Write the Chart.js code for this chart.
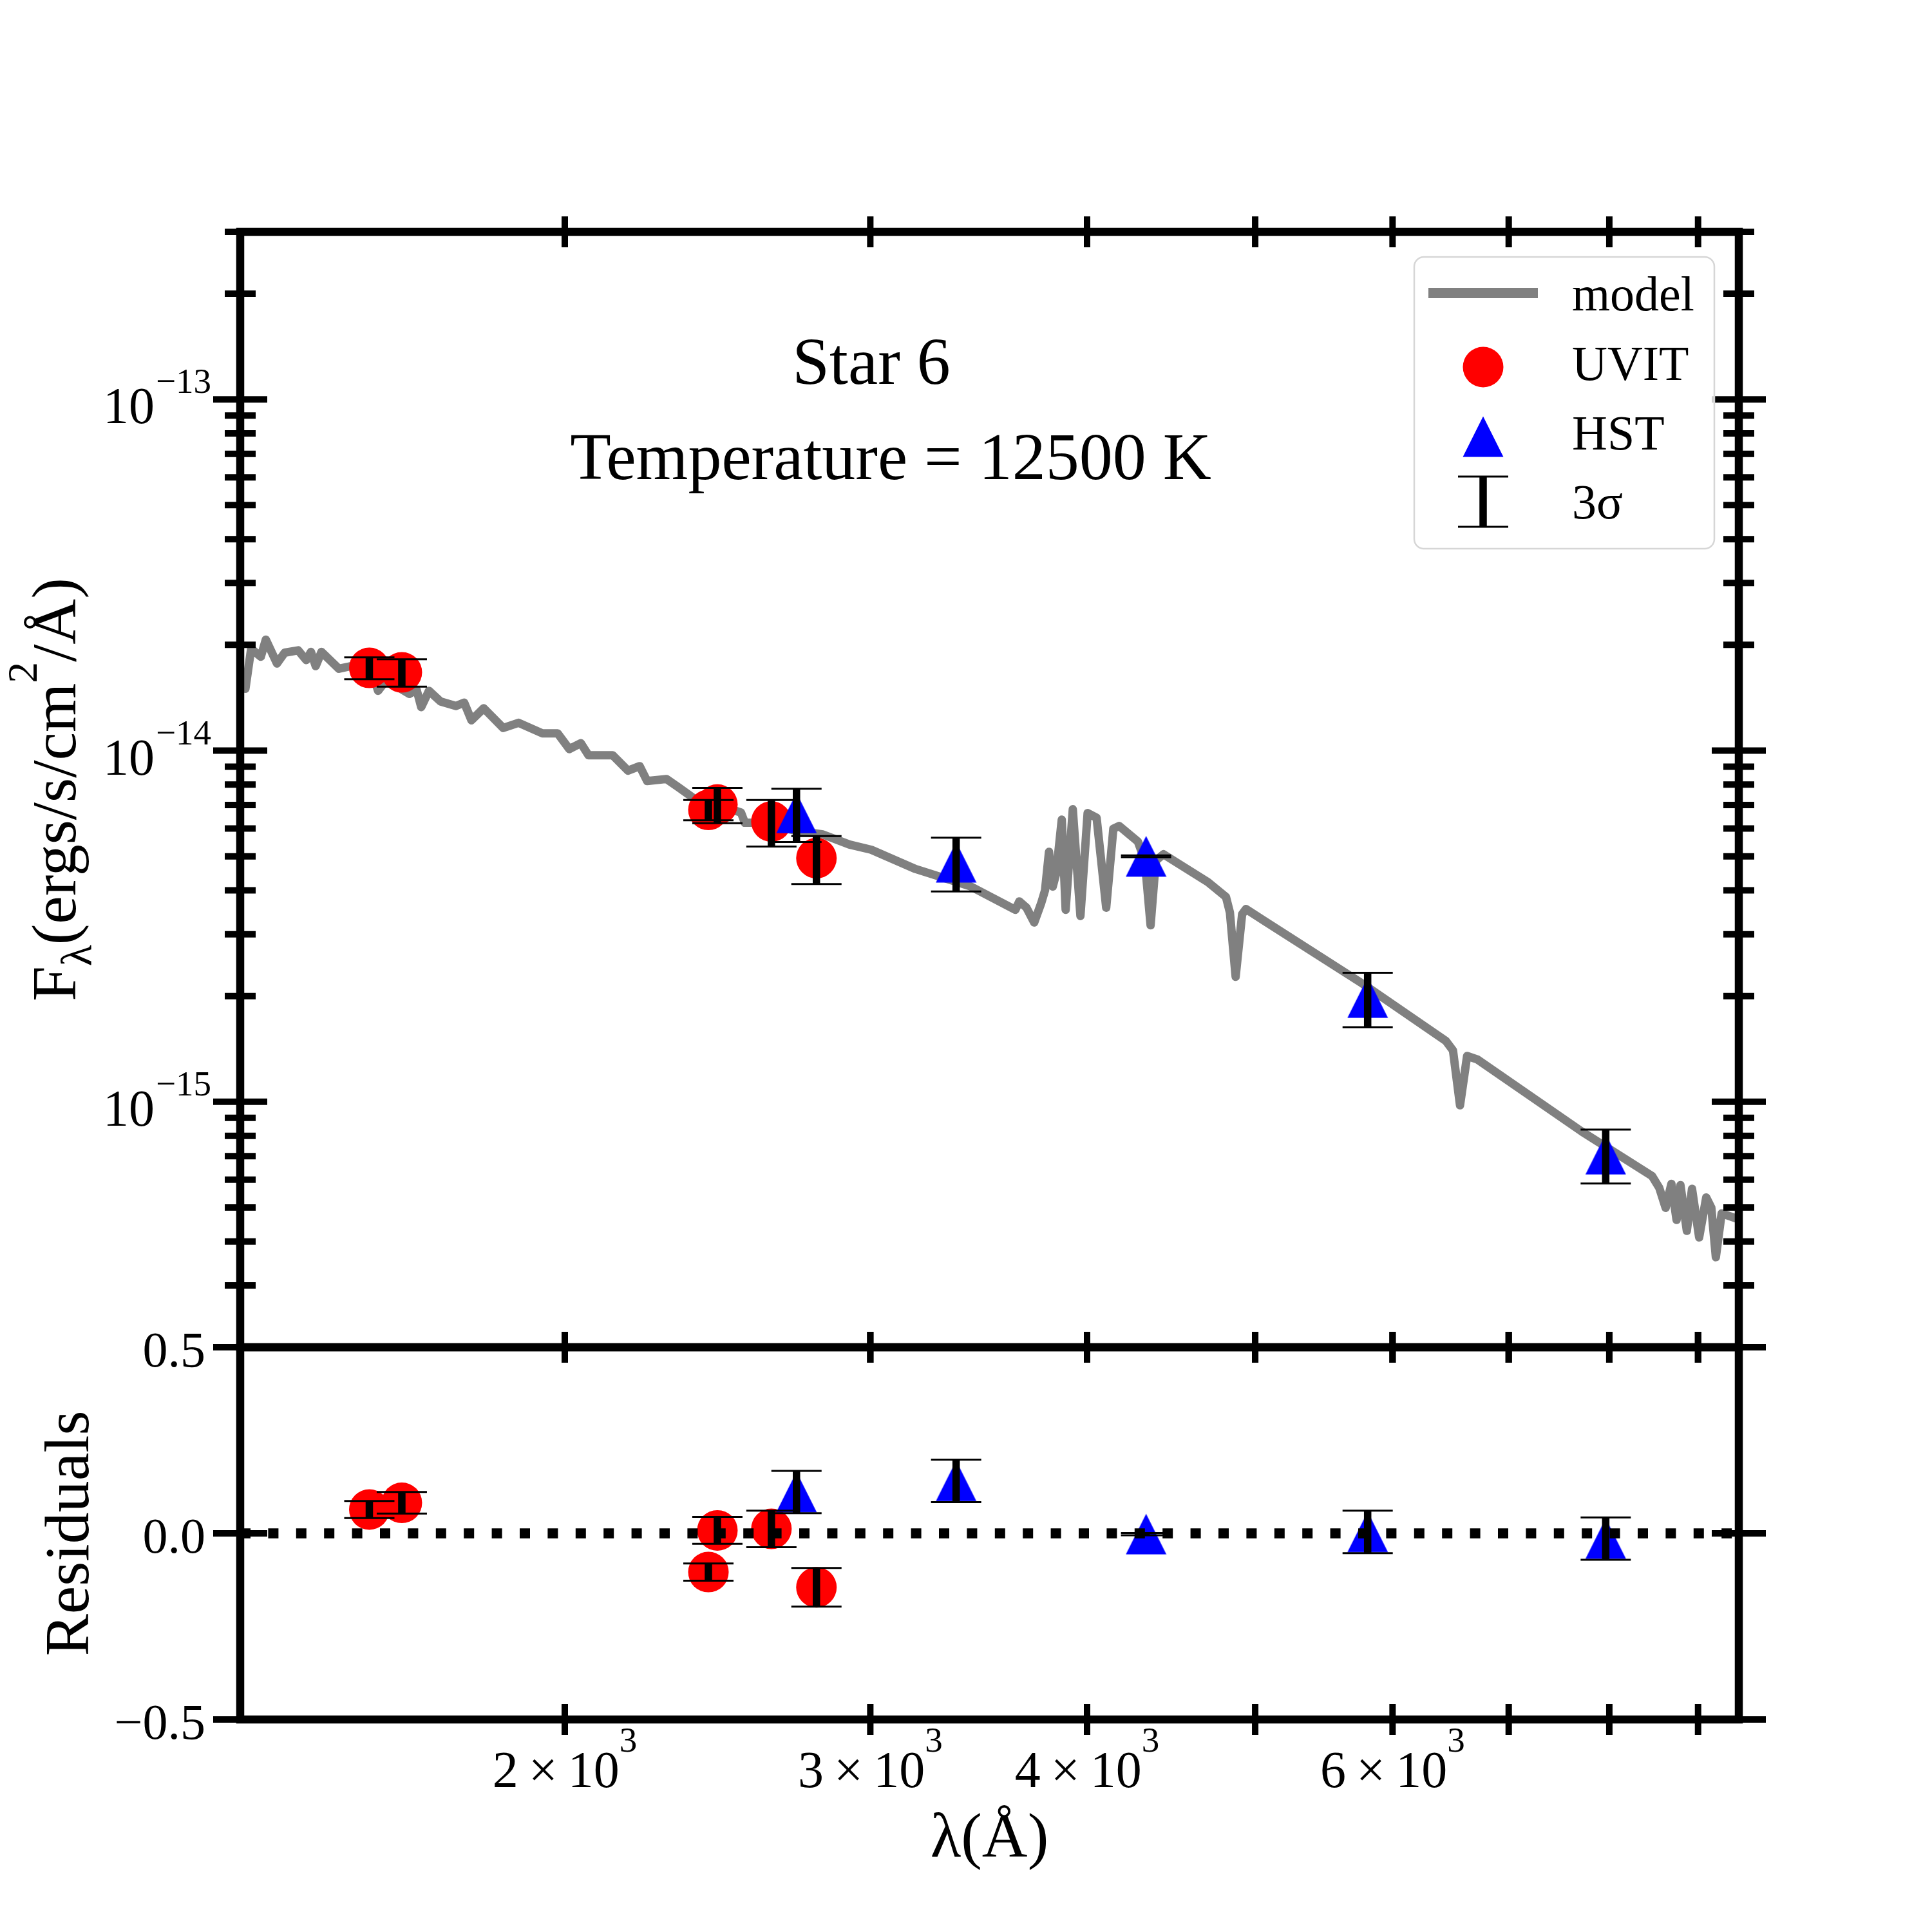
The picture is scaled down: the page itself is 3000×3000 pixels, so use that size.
<!DOCTYPE html>
<html>
<head>
<meta charset="utf-8">
<title>Star 6 SED</title>
<script src="https://cdn.jsdelivr.net/npm/chart.js@4.4.1/dist/chart.umd.min.js"></script>
<style>
  body { margin: 0; background: #fff; }
  #wrap { position: relative; width: 3000px; height: 3000px; }
  #wrap canvas { position: absolute; left: 0; top: 0; }
</style>
</head>
<body>
<div id="wrap">
  <canvas id="sed" width="3000" height="3000"></canvas>
  <canvas id="resid" width="3000" height="3000"></canvas>
</div>
<script>
// model spectrum (Angstrom, erg/s/cm2/A)
const modelWave = [1309, 1319, 1336, 1345, 1365, 1379, 1404, 1419, 1428, 1437, 1448, 1482, 1514, 1551, 1561,
  1577, 1594, 1627, 1643, 1653, 1670, 1696, 1731, 1750, 1767, 1796, 1843, 1881, 1941, 1981, 2012, 2043, 2064,
  2131, 2175, 2209, 2231, 2289, 2326, 2374, 2449, 2527, 2540, 2589, 2715, 2817, 2918, 3004, 3186, 3429, 3637,
  3656, 3691, 3729, 3764, 3783, 3803, 3822, 3839, 3868, 3888, 3925, 3965, 4003, 4051, 4103, 4142, 4174, 4279,
  4319, 4352, 4382, 4427, 4696, 4810, 4835, 4872, 4914, 4939, 5063, 5765, 6440, 6501, 6562, 6624, 6715, 7715,
  8468, 8548, 8621, 8687, 8747, 8792, 8867, 8928, 9013, 9098, 9160, 9215, 9286, 9470];
const modelFlux = [1.50e-14, 1.95e-14, 1.85e-14, 2.07e-14, 1.77e-14, 1.90e-14, 1.93e-14, 1.81e-14, 1.91e-14,
  1.74e-14, 1.91e-14, 1.71e-14, 1.75e-14, 1.63e-14, 1.48e-14, 1.58e-14, 1.54e-14, 1.45e-14, 1.49e-14, 1.33e-14,
  1.48e-14, 1.38e-14, 1.34e-14, 1.37e-14, 1.22e-14, 1.32e-14, 1.16e-14, 1.20e-14, 1.12e-14, 1.12e-14, 1.01e-14,
  1.05e-14, 9.70e-15, 9.70e-15, 8.77e-15, 9.03e-15, 8.19e-15, 8.30e-15, 7.86e-15, 7.31e-15, 7.01e-15, 6.66e-15,
  6.23e-15, 6.23e-15, 5.92e-15, 5.77e-15, 5.40e-15, 5.22e-15, 4.60e-15, 4.10e-15, 3.52e-15, 3.72e-15, 3.57e-15,
  3.24e-15, 3.68e-15, 4.00e-15, 5.15e-15, 4.10e-15, 4.46e-15, 6.36e-15, 3.52e-15, 6.81e-15, 3.38e-15, 6.64e-15,
  6.44e-15, 3.57e-15, 5.99e-15, 6.10e-15, 5.51e-15, 4.86e-15, 3.18e-15, 4.86e-15, 5.07e-15, 4.22e-15, 3.83e-15,
  3.46e-15, 2.27e-15, 3.42e-15, 3.54e-15, 3.27e-15, 2.17e-15, 1.49e-15, 1.40e-15, 9.77e-16, 1.35e-15, 1.32e-15,
  8.22e-16, 6.14e-16, 5.69e-16, 4.99e-16, 5.84e-16, 4.61e-16, 5.79e-16, 4.29e-16, 5.65e-16, 4.11e-16, 5.34e-16,
  4.99e-16, 3.61e-16, 4.81e-16, 4.65e-16];

// photometry
const uvitWave = [1543, 1611, 2420, 2449, 2631, 2793];
const uvitFlux = [1.72e-14, 1.67e-14, 6.78e-15, 7.02e-15, 6.28e-15, 4.94e-15];
const uvitErr = [1.23e-15, 1.49e-15, 4.5e-16, 8.1e-16, 9.5e-16, 7.7e-16];
const hstWave = [2720, 3362, 4326, 5805, 7962];
const hstFlux = [6.64e-15, 4.81e-15, 5.00e-15, 1.98e-15, 7.09e-16];
const hstErr = [1.15e-15, 8.4e-16, 3e-17, 3.5e-16, 1.24e-16];

// residuals
const uvitResid = [0.064, 0.082, -0.104, 0.008, 0.012, -0.145];
const uvitResidErr = [0.023, 0.029, 0.023, 0.036, 0.049, 0.052];
const hstResid = [0.111, 0.141, -0.002, 0.004, -0.014];
const hstResidErr = [0.057, 0.057, 0.003, 0.057, 0.057];

// axes
const xTicks = [2000, 3000, 4000, 5000, 6000, 7000, 8000, 9000];
const xTickMant = ['2', '3', '4', '', '6', '', '', ''];
const yMajor = [1e-13, 1e-14, 1e-15];
const yMajorExp = ['\u221213', '\u221214', '\u221215'];
const yMinor = [3e-13, 2e-13, 9e-14, 8e-14, 7e-14, 6e-14, 5e-14, 4e-14, 3e-14, 2e-14,
  9e-15, 8e-15, 7e-15, 6e-15, 5e-15, 4e-15, 3e-15, 2e-15,
  9e-16, 8e-16, 7e-16, 6e-16, 5e-16, 4e-16, 3e-16, 2e-16];
const residTicks = [0.5, 0.0, -0.5];
const residTickLabels = ['0.5', '0.0', '\u22120.5'];

const SERIF = '"Liberation Serif", "Times New Roman", serif';
const f = px => px + 'px ' + SERIF;

// matplotlib style '^' marker
const tri = document.createElement('canvas');
tri.width = 64; tri.height = 64;
(function () {
  const c = tri.getContext('2d');
  c.fillStyle = '#0000ff';
  c.beginPath();
  c.moveTo(32, 0.5); c.lineTo(63.5, 63.5); c.lineTo(0.5, 63.5);
  c.closePath(); c.fill();
})();

function seg(ctx, x1, y1, x2, y2) {
  ctx.beginPath(); ctx.moveTo(x1, y1); ctx.lineTo(x2, y2); ctx.stroke();
}

function pts(xs, ys) {
  return xs.map((x, i) => ({x: x, y: ys[i]}));
}

function drawErrorBars(chart, sets) {
  const ctx = chart.ctx, xs = chart.scales.x, ys = chart.scales.y;
  ctx.save();
  ctx.strokeStyle = '#000';
  ctx.lineCap = 'butt';
  sets.forEach(s => {
    s.w.forEach((w, i) => {
      const x = xs.getPixelForValue(w);
      const lo = ys.getPixelForValue(s.v[i] - s.e[i]);
      const hi = ys.getPixelForValue(s.v[i] + s.e[i]);
      ctx.lineWidth = 11.5; seg(ctx, x, lo, x, hi);
      ctx.lineWidth = 3;
      seg(ctx, x - 39, lo, x + 39, lo);
      seg(ctx, x - 39, hi, x + 39, hi);
    });
  });
  ctx.restore();
}

function drawBox(chart) {
  const ctx = chart.ctx, a = chart.chartArea, xs = chart.scales.x;
  ctx.strokeStyle = '#000';
  ctx.lineCap = 'butt';
  ctx.lineWidth = 12.5;
  ctx.strokeRect(a.left, a.top, a.right - a.left, a.bottom - a.top);
  ctx.lineWidth = 10;
  xTicks.forEach(v => {
    const x = xs.getPixelForValue(v);
    seg(ctx, x, a.top - 24, x, a.top + 24);
    seg(ctx, x, a.bottom - 24, x, a.bottom + 24);
  });
}

function yTick(ctx, a, y, len) {
  seg(ctx, a.left - len / 2, y, a.left + len / 2, y);
  seg(ctx, a.right - len / 2, y, a.right + len / 2, y);
}

// rotated label built from pieces [text, size, shift]
function rotLabel(ctx, pieces, cx, cy) {
  ctx.save();
  ctx.translate(cx, cy);
  ctx.rotate(-Math.PI / 2);
  ctx.textAlign = 'left';
  ctx.textBaseline = 'alphabetic';
  let total = 0;
  pieces.forEach(p => { ctx.font = f(p[1]); total += ctx.measureText(p[0]).width; });
  let x = -total / 2;
  pieces.forEach(p => {
    ctx.font = f(p[1]);
    ctx.fillText(p[0], x, p[2]);
    x += ctx.measureText(p[0]).width;
  });
  ctx.restore();
}

const sedFrame = {
  id: 'sedFrame',
  afterDatasetsDraw(chart) {
    drawErrorBars(chart, [
      {w: uvitWave, v: uvitFlux, e: uvitErr},
      {w: hstWave, v: hstFlux, e: hstErr}
    ]);
  },
  afterDraw(chart) {
    const ctx = chart.ctx, a = chart.chartArea, ys = chart.scales.y;
    ctx.save();
    drawBox(chart);
    yMajor.forEach(v => yTick(ctx, a, ys.getPixelForValue(v), 84));
    yMinor.forEach(v => yTick(ctx, a, ys.getPixelForValue(v), 48));

    // y tick labels 10^-n
    ctx.fillStyle = '#000';
    ctx.textBaseline = 'alphabetic';
    ctx.textAlign = 'right';
    yMajor.forEach((v, i) => {
      const y = ys.getPixelForValue(v);
      ctx.font = f(55);
      const wE = ctx.measureText(yMajorExp[i]).width;
      ctx.fillText(yMajorExp[i], 328, y - 10);
      ctx.font = f(80);
      ctx.fillText('10', 328 - wE - 2, y + 37);
    });

    // y axis title
    rotLabel(ctx, [
      ['F', 98, 0], ['\u03bb', 68, 25], ['(ergs/s/cm', 98, 0], ['2', 66, -60], ['/\u00c5)', 98, 0]
    ], 117, (a.top + a.bottom) / 2);

    // annotations
    ctx.textAlign = 'center';
    ctx.font = f(104);
    ctx.fillText('Star 6', 1353, 596);
    ctx.fillText('Temperature = 12500 K', 1383, 744);

    // legend
    const lx = 2196, ly = 399, lw = 466, lh = 453, r = 15;
    ctx.beginPath();
    ctx.moveTo(lx + r, ly);
    ctx.arcTo(lx + lw, ly, lx + lw, ly + lh, r);
    ctx.arcTo(lx + lw, ly + lh, lx, ly + lh, r);
    ctx.arcTo(lx, ly + lh, lx, ly, r);
    ctx.arcTo(lx, ly, lx + lw, ly, r);
    ctx.closePath();
    ctx.fillStyle = 'rgba(255,255,255,0.8)';
    ctx.fill();
    ctx.strokeStyle = '#d6d6d6';
    ctx.lineWidth = 2.5;
    ctx.stroke();

    const hx = 2303;
    ctx.strokeStyle = '#808080';
    ctx.lineWidth = 16;
    seg(ctx, 2218, 455, 2388, 455);
    ctx.fillStyle = '#ff0000';
    ctx.beginPath(); ctx.arc(hx, 570, 31.5, 0, Math.PI * 2); ctx.fill();
    ctx.drawImage(tri, hx - 32, 678 - 32);
    ctx.strokeStyle = '#000';
    ctx.lineWidth = 11.5; seg(ctx, hx, 740, hx, 818);
    ctx.lineWidth = 3; seg(ctx, hx - 39, 740, hx + 39, 740); seg(ctx, hx - 39, 818, hx + 39, 818);

    ctx.fillStyle = '#000';
    ctx.textAlign = 'left';
    ctx.font = f(76);
    ctx.fillText('model', 2441, 482);
    ctx.fillText('UVIT', 2441, 590);
    ctx.fillText('HST', 2441, 698);
    ctx.fillText('3\u03c3', 2441, 805);
    ctx.restore();
  }
};

const residFrame = {
  id: 'residFrame',
  afterDatasetsDraw(chart) {
    drawErrorBars(chart, [
      {w: uvitWave, v: uvitResid, e: uvitResidErr},
      {w: hstWave, v: hstResid, e: hstResidErr}
    ]);
  },
  afterDraw(chart) {
    const ctx = chart.ctx, a = chart.chartArea, xs = chart.scales.x, ys = chart.scales.y;
    ctx.save();
    drawBox(chart);
    residTicks.forEach(v => yTick(ctx, a, ys.getPixelForValue(v), 84));

    ctx.fillStyle = '#000';
    ctx.textBaseline = 'alphabetic';
    ctx.textAlign = 'right';
    ctx.font = f(78);
    residTicks.forEach((v, i) => {
      ctx.fillText(residTickLabels[i], 319, ys.getPixelForValue(v) + 30);
    });

    // x tick labels m x 10^3
    xTicks.forEach((v, i) => {
      const m = xTickMant[i];
      if (!m) return;
      const cx = xs.getPixelForValue(v), base = 2775, gap = 16;
      ctx.font = f(80);
      const wM = ctx.measureText(m).width, wX = ctx.measureText('\u00d7').width, wT = ctx.measureText('10').width;
      ctx.font = f(55);
      const wE = ctx.measureText('3').width;
      let x = cx - (wM + gap + wX + gap + wT + wE) / 2;
      ctx.textAlign = 'left';
      ctx.font = f(80);
      ctx.fillText(m, x, base); x += wM + gap;
      ctx.fillText('\u00d7', x, base); x += wX + gap;
      ctx.fillText('10', x, base); x += wT;
      ctx.font = f(55);
      ctx.fillText('3', x, base - 55);
    });

    ctx.textAlign = 'center';
    ctx.font = f(98);
    ctx.fillText('\u03bb(\u00c5)', (a.left + a.right) / 2, 2883);
    rotLabel(ctx, [['Residuals', 98, 0]], 137, (a.top + a.bottom) / 2);
    ctx.restore();
  }
};

const common = {
  responsive: false,
  animation: false,
  devicePixelRatio: 1,
  events: [],
  plugins: { legend: { display: false }, tooltip: { enabled: false } }
};

new Chart(document.getElementById('sed'), {
  type: 'scatter',
  data: {
    datasets: [
      {
        label: 'model',
        data: pts(modelWave, modelFlux),
        showLine: true,
        borderColor: '#808080',
        borderWidth: 13,
        borderJoinStyle: 'round',
        borderCapStyle: 'round',
        pointRadius: 0,
        order: 3
      },
      {
        label: 'UVIT',
        data: pts(uvitWave, uvitFlux),
        pointStyle: 'circle',
        pointRadius: 31.5,
        pointBorderWidth: 0,
        backgroundColor: '#ff0000',
        order: 2
      },
      {
        label: 'HST',
        data: pts(hstWave, hstFlux),
        pointStyle: tri,
        pointRadius: 31.5,
        order: 1
      }
    ]
  },
  options: Object.assign({}, common, {
    layout: { padding: { left: 373, right: 300, top: 360, bottom: 908 } },
    scales: {
      x: { type: 'logarithmic', min: 1300, max: 9500, display: false },
      y: { type: 'logarithmic', min: 2e-16, max: 3e-13, display: false }
    }
  }),
  plugins: [sedFrame]
});

new Chart(document.getElementById('resid'), {
  type: 'scatter',
  data: {
    datasets: [
      {
        label: 'UVIT',
        data: pts(uvitWave, uvitResid),
        pointStyle: 'circle',
        pointRadius: 31.5,
        pointBorderWidth: 0,
        backgroundColor: '#ff0000',
        order: 3
      },
      {
        label: 'HST',
        data: pts(hstWave, hstResid),
        pointStyle: tri,
        pointRadius: 31.5,
        order: 2
      },
      {
        label: 'zero',
        data: [{x: 1300, y: 0}, {x: 9500, y: 0}],
        showLine: true,
        borderColor: '#000',
        borderWidth: 15.5,
        borderDash: [16, 27.4],
        pointRadius: 0,
        order: 1
      }
    ]
  },
  options: Object.assign({}, common, {
    layout: { padding: { left: 373, right: 300, top: 2092, bottom: 330 } },
    scales: {
      x: { type: 'logarithmic', min: 1300, max: 9500, display: false },
      y: { type: 'linear', min: -0.5, max: 0.5, display: false }
    }
  }),
  plugins: [residFrame]
});
</script>
</body>
</html>
